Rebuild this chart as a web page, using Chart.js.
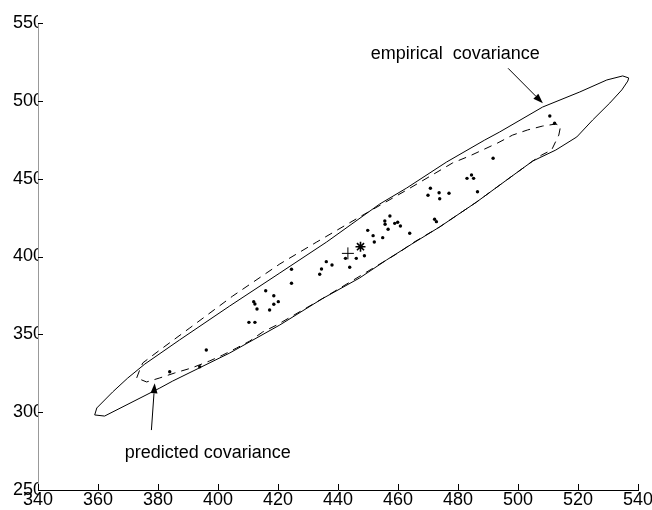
<!DOCTYPE html>
<html>
<head>
<meta charset="utf-8">
<script src="https://cdn.jsdelivr.net/npm/chart.js@4"></script>
<style>
  html, body { margin: 0; padding: 0; background: #fff; }
</style>
</head>
<body>
<canvas id="chart" width="652" height="510"></canvas>
<script>
// axis ticks
const xTicks = [340, 360, 380, 400, 420, 440, 460, 480, 500, 520, 540];
const yTicks = [250, 300, 350, 400, 450, 500, 550];

// empirical covariance outline (solid)
const empiricalX = [358.9, 359.6, 364.9, 369.9, 375.6, 387.2, 403.9, 420.6, 436.2, 453.9, 462.9, 476.2, 488.9, 493.9, 508.2, 520.6, 529.6, 534.9, 536.9,
  536.6, 534.6, 530.6, 524.9, 519.6, 512.6, 504.9, 496.2, 486.2, 473.9, 464.6, 456.2, 447.2, 434.6, 420.6, 403.9, 384.9, 380.6, 362.2, 358.9];
const empiricalY = [298.2, 302.7, 313.0, 321.9, 330.9, 346.4, 368.2, 389.4, 409.3, 433.7, 444.0, 460.7, 474.8, 480.0, 496.0, 505.7, 513.4, 516.0, 514.7,
  512.7, 507.0, 498.6, 487.7, 476.8, 468.4, 461.3, 449.1, 435.0, 419.0, 408.0, 397.8, 386.2, 372.7, 356.0, 338.0, 320.0, 315.5, 297.5, 298.2];

// predicted covariance outline (dashed)
const predictedX = [372.9, 373.9, 374.9, 380.6, 390.6, 404.9, 420.6, 432.9, 447.2, 462.9, 478.2, 483.9, 493.2, 498.2, 503.2, 508.2, 512.6, 514.2,
  513.6, 511.2, 507.9, 504.9, 496.2, 486.2, 473.9, 464.9, 460.6, 456.2, 447.9, 434.6, 419.6, 414.9, 410.6, 406.2, 401.6, 397.2, 391.2, 385.6, 380.6, 376.2, 372.9];
const predictedY = [322.0, 327.1, 331.6, 339.9, 354.1, 374.6, 395.2, 409.3, 425.4, 442.7, 460.1, 464.6, 472.9, 478.0, 481.3, 483.8, 485.1, 483.8,
  478.0, 468.4, 465.2, 461.3, 449.1, 435.0, 419.0, 408.7, 402.9, 397.8, 388.1, 372.7, 356.0, 351.5, 345.7, 341.2, 336.7, 332.9, 328.4, 325.2, 322.0, 319.4, 322.0];

// samples
const pointsX = [383.9, 393.9, 396.1, 410.3, 412.3, 411.9, 412.3, 413.0, 415.9, 418.6, 418.6, 420.1, 417.2, 424.5, 424.5, 433.9, 434.5, 436.1, 438.0,
  442.5, 443.9, 446.1, 448.8, 449.9, 451.7, 452.1, 454.9, 455.6, 455.7, 457.3, 456.7, 458.9, 459.9, 460.8, 463.9, 470.8, 470.0, 473.7, 473.9,
  477.0, 483.0, 484.5, 485.2, 486.5, 491.7, 472.2, 472.8, 510.6, 512.2];
const pointsY = [326.0, 329.2, 339.9, 357.7, 357.7, 371.0, 369.5, 366.3, 378.0, 374.8, 369.3, 371.0, 365.6, 391.8, 382.8, 388.6, 392.0, 396.7, 394.5,
  398.8, 393.1, 398.8, 400.5, 416.8, 413.4, 409.3, 412.1, 422.8, 420.7, 426.0, 417.5, 421.3, 422.0, 419.6, 414.9, 443.8, 439.3, 441.0, 437.1,
  440.6, 450.2, 452.4, 450.2, 441.6, 463.1, 423.9, 422.4, 490.3, 485.6];

// means
const plusMean = [443.3, 402.0];
const starMean = [447.5, 406.3];

// annotations: text anchor (left, baseline) and arrow from -> to, in data units
const noteText = ['empirical  covariance', 'predicted covariance'];
const noteX = [450.9, 368.9];
const noteY = [526.9, 270.6];
const arrowFrom = [[496.7, 520.9], [377.8, 288.5]];
const arrowTo = [[508.3, 498.4], [378.9, 318.5]];

const FONT = "'Liberation Sans', Arial, Helvetica, sans-serif";
const toXY = (xs, ys) => xs.map((v, i) => ({ x: v, y: ys[i] }));

const extras = {
  id: 'extras',
  afterDraw(chart) {
    const { ctx, scales: { x, y } } = chart;
    ctx.save();
    ctx.strokeStyle = '#000';
    ctx.lineWidth = 1;
    // inward tick marks
    xTicks.forEach(v => {
      const px = Math.round(x.getPixelForValue(v)) + 0.5;
      ctx.beginPath(); ctx.moveTo(px, y.bottom); ctx.lineTo(px, y.bottom - 6); ctx.stroke();
    });
    yTicks.forEach(v => {
      const py = Math.round(y.getPixelForValue(v)) + 0.5;
      ctx.beginPath(); ctx.moveTo(x.left, py); ctx.lineTo(x.left + 5, py); ctx.stroke();
    });
    // text notes
    ctx.fillStyle = '#000';
    ctx.font = '18px ' + FONT;
    ctx.textBaseline = 'alphabetic';
    ctx.textAlign = 'left';
    noteText.forEach((t, i) => ctx.fillText(t, x.getPixelForValue(noteX[i]), y.getPixelForValue(noteY[i])));
    // arrows
    arrowFrom.forEach((f, i) => {
      const x0 = x.getPixelForValue(f[0]), y0 = y.getPixelForValue(f[1]);
      const x1 = x.getPixelForValue(arrowTo[i][0]), y1 = y.getPixelForValue(arrowTo[i][1]);
      const a = Math.atan2(y1 - y0, x1 - x0);
      const hl = 10, hw = 3.5;
      ctx.beginPath(); ctx.moveTo(x0, y0);
      ctx.lineTo(x1 - hl * Math.cos(a), y1 - hl * Math.sin(a)); ctx.stroke();
      ctx.beginPath();
      ctx.moveTo(x1, y1);
      ctx.lineTo(x1 - hl * Math.cos(a) + hw * Math.sin(a), y1 - hl * Math.sin(a) - hw * Math.cos(a));
      ctx.lineTo(x1 - hl * Math.cos(a) - hw * Math.sin(a), y1 - hl * Math.sin(a) + hw * Math.cos(a));
      ctx.closePath(); ctx.fill();
    });
    ctx.restore();
  }
};

new Chart(document.getElementById('chart'), {
  type: 'scatter',
  data: {
    datasets: [
      { data: toXY(empiricalX, empiricalY), showLine: true, borderColor: '#000', borderWidth: 1, pointRadius: 0, fill: false },
      { data: toXY(predictedX, predictedY), showLine: true, borderColor: '#000', borderWidth: 1, borderDash: [8, 6], pointRadius: 0, fill: false },
      { data: toXY(pointsX, pointsY), pointRadius: 1.7, pointBackgroundColor: '#000', pointBorderWidth: 0 },
      { data: [{ x: plusMean[0], y: plusMean[1] }], pointStyle: 'cross', pointRadius: 6, pointBorderColor: '#000', pointBorderWidth: 1 },
      { data: [{ x: starMean[0], y: starMean[1] }], pointStyle: 'star', pointRadius: 5, pointBorderColor: '#000', pointBorderWidth: 1.6 }
    ]
  },
  options: {
    responsive: false,
    animation: false,
    events: [],
    layout: { padding: { top: 23, right: 14, left: 0, bottom: 0 } },
    plugins: { legend: { display: false }, tooltip: { enabled: false } },
    scales: {
      x: {
        type: 'linear', min: 340, max: 540,
        afterBuildTicks: s => { s.ticks = xTicks.map(v => ({ value: v })); },
        afterFit: s => { s.height = 20; s.paddingLeft = 0; s.paddingRight = 0; },
        grid: { display: false, drawTicks: false },
        border: { display: true, color: '#000', width: 1 },
        ticks: { padding: 1, color: '#000', maxRotation: 0, autoSkip: false, font: { family: FONT, size: 18, lineHeight: 1 } }
      },
      y: {
        type: 'linear', min: 250, max: 550,
        afterBuildTicks: s => { s.ticks = yTicks.map(v => ({ value: v })); },
        afterFit: s => { s.width = 38; s.paddingTop = 0; s.paddingBottom = 0; },
        grid: { display: false, drawTicks: false },
        border: { display: true, color: '#999', width: 1 },
        ticks: { padding: -5, color: '#000', autoSkip: false, font: { family: FONT, size: 18, lineHeight: 1 } }
      }
    }
  },
  plugins: [extras]
});
</script>
</body>
</html>
